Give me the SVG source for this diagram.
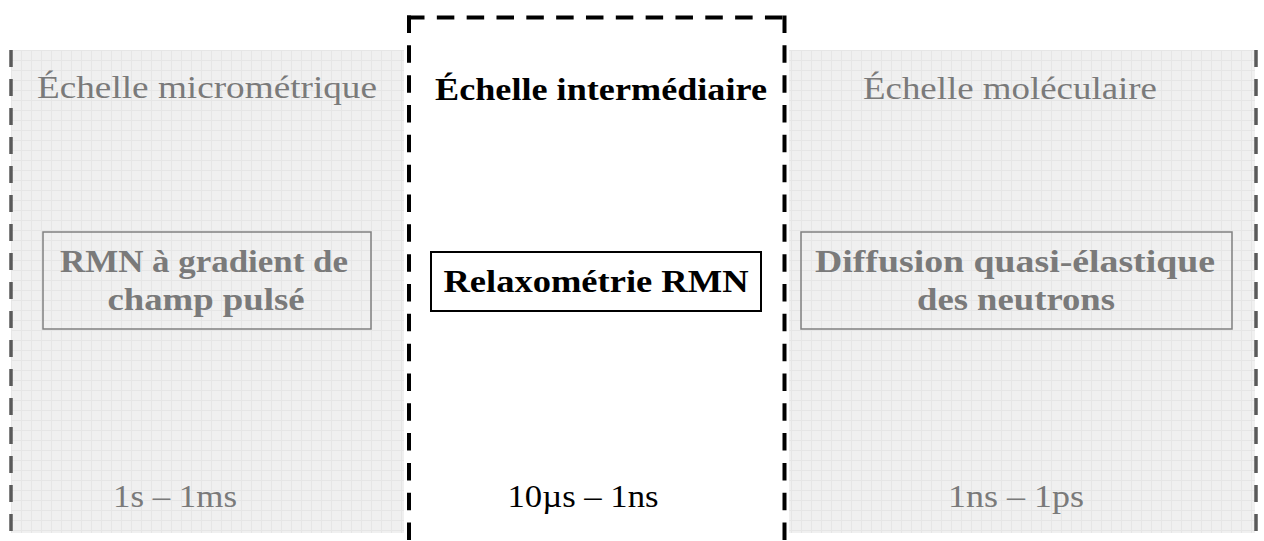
<svg xmlns="http://www.w3.org/2000/svg" width="1264" height="541" viewBox="0 0 1264 541">
  <defs>
    <pattern id="grid" x="11" y="50" width="10" height="10" patternUnits="userSpaceOnUse">
      <rect width="10" height="10" fill="#f0f0f0"/>
      <path d="M0,0.5 H10 M0.5,0 V10" stroke="#e6e6e6" stroke-width="1" fill="none"/>
    </pattern>
  </defs>
  <style>
    .panel { fill: url(#grid); }
    .edge { stroke: #5a5a5a; stroke-width: 3.5; stroke-dasharray: 17 12; fill: none; }
    .mid { stroke: #000; stroke-width: 4; stroke-dasharray: 13.5 16.33; stroke-linecap: square; fill: none; }
    .serif { font-family: "Liberation Serif", "DejaVu Serif", serif; }
    .grey { fill: #7a7a7a; }
    .greybox { fill: none; stroke: #808080; stroke-width: 1.5; }
    .title { font-size: 31px; }
    .box { font-size: 32px; font-weight: bold; }
    .range { font-size: 32px; }
  </style>
  <rect width="1264" height="541" fill="#ffffff"/>

  <g id="panel-micro">
    <rect class="panel" x="11" y="50" width="393" height="483"/>
    <path class="edge" d="M11,50 V533"/>
    <text class="serif grey title" x="207" y="98" text-anchor="middle" textLength="340" lengthAdjust="spacingAndGlyphs">Échelle micrométrique</text>
    <g id="node-rmn-gradient">
      <rect class="greybox" x="43" y="232" width="328" height="97"/>
      <text class="serif grey box" x="204" y="272" text-anchor="middle" textLength="288" lengthAdjust="spacingAndGlyphs">RMN à gradient de</text>
      <text class="serif grey box" x="206" y="310" text-anchor="middle" textLength="197" lengthAdjust="spacingAndGlyphs">champ pulsé</text>
    </g>
    <text class="serif grey range" x="175" y="507" text-anchor="middle" textLength="124" lengthAdjust="spacingAndGlyphs">1s – 1ms</text>
  </g>

  <g id="panel-molec">
    <rect class="panel" x="789" y="50" width="466" height="483"/>
    <path class="edge" d="M1256,50 V533"/>
    <text class="serif grey title" x="1010" y="99" text-anchor="middle" textLength="294" lengthAdjust="spacingAndGlyphs">Échelle moléculaire</text>
    <g id="node-diffusion">
      <rect class="greybox" x="801" y="232" width="431" height="97"/>
      <text class="serif grey box" x="1015" y="272" text-anchor="middle" textLength="400" lengthAdjust="spacingAndGlyphs">Diffusion quasi-élastique</text>
      <text class="serif grey box" x="1016" y="310" text-anchor="middle" textLength="198" lengthAdjust="spacingAndGlyphs">des neutrons</text>
    </g>
    <text class="serif grey range" x="1016" y="507" text-anchor="middle" textLength="136" lengthAdjust="spacingAndGlyphs">1ns – 1ps</text>
  </g>

  <g id="panel-inter">
    <path class="mid" d="M409,17.5 V560"/>
    <path class="mid" d="M409,17.5 H784.5"/>
    <path class="mid" d="M784.5,17.5 V560"/>
    <text class="serif title" x="601" y="100" text-anchor="middle" font-weight="bold" fill="#000" textLength="332" lengthAdjust="spacingAndGlyphs">Échelle intermédiaire</text>
    <g id="node-relaxometrie">
      <rect x="431" y="252" width="330" height="59" fill="#ffffff" stroke="#000" stroke-width="2"/>
      <text class="serif box" x="596" y="292" text-anchor="middle" fill="#000" textLength="305" lengthAdjust="spacingAndGlyphs">Relaxométrie RMN</text>
    </g>
    <text class="serif range" x="583" y="507" text-anchor="middle" fill="#000" textLength="151" lengthAdjust="spacingAndGlyphs">10µs – 1ns</text>
  </g>

  <g id="connectors"></g>
</svg>
